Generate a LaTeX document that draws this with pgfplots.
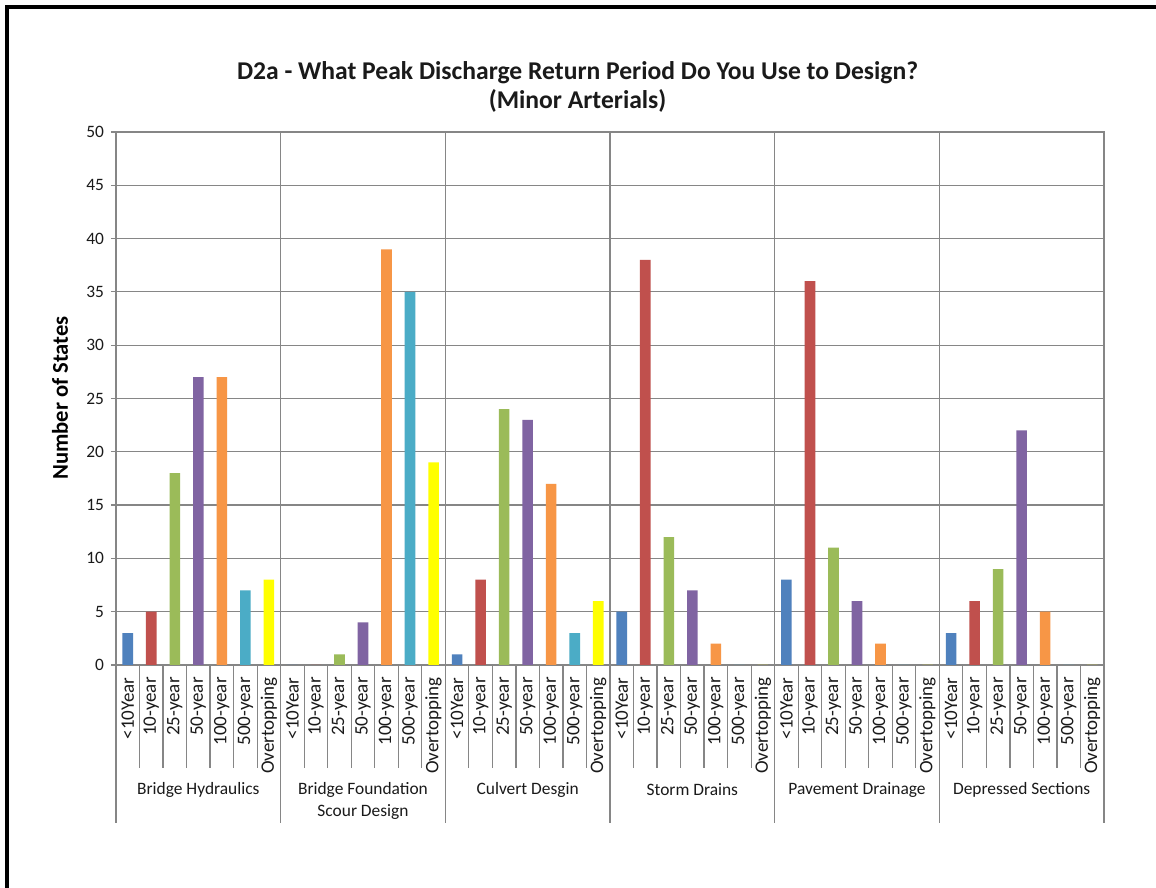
\documentclass[border=0pt]{standalone}
\usepackage{fontspec}
\setmainfont{Carlito}
\usepackage{pgfplots}
\pgfplotsset{compat=1.18}
\definecolor{cBlue}{HTML}{4F81BD}
\definecolor{cRed}{HTML}{C0504D}
\definecolor{cGreen}{HTML}{9BBB59}
\definecolor{cPurple}{HTML}{8064A2}
\definecolor{cOrange}{HTML}{F79646}
\definecolor{cCyan}{HTML}{4BACC6}
\definecolor{cYellow}{HTML}{FFFF00}
\definecolor{gridc}{HTML}{868686}
\definecolor{txt}{HTML}{1A1A1A}
\begin{document}
\begin{tikzpicture}
\useasboundingbox (0,0) rectangle (578pt,444pt);
\fill[white] (0,0) rectangle (578pt,444pt);
\draw[line width=2pt, line join=miter] (3.5pt,0) -- (3.5pt,440.25pt) -- (578pt,440.25pt);
\node[font=\bfseries\fontsize{12.8}{14.5}\selectfont, align=center, text=txt] at (288.8pt,400.75pt)
  {D2a - What Peak Discharge Return Period Do You Use to Design?\\(Minor Arterials)};
\node[font=\bfseries\fontsize{11.3}{13}\selectfont, rotate=90, text=black] at (30pt,245pt) {Number of States};
\begin{axis}[
  at={(58pt,111.5pt)}, anchor=south west,
  scale only axis, width=494pt, height=266.5pt,
  xmin=-0.5, xmax=41.5, ymin=0, ymax=50,
  ytick={0,5,...,50},
  ymajorgrids,
  grid style={gridc, line width=0.6pt},
  axis line style={gridc, line width=0.6pt},
  tick style={gridc, line width=0.6pt},
  tick align=outside,
  ytick pos=left, xtick pos=bottom,
  major tick length=2.5pt,
  xtick={0,...,41},
  xtick style={draw=none},
  xticklabels={<10Year,10-year,25-year,50-year,100-year,500-year,Overtopping,
               <10Year,10-year,25-year,50-year,100-year,500-year,Overtopping,
               <10Year,10-year,25-year,50-year,100-year,500-year,Overtopping,
               <10Year,10-year,25-year,50-year,100-year,500-year,Overtopping,
               <10Year,10-year,25-year,50-year,100-year,500-year,Overtopping,
               <10Year,10-year,25-year,50-year,100-year,500-year,Overtopping},
  xticklabel style={rotate=90, anchor=east, inner sep=0pt, font=\fontsize{9.5}{10}\selectfont, text=txt},
  xticklabel shift=3.5pt,
  yticklabel style={font=\fontsize{8.7}{10}\selectfont, text=txt},
  /pgf/number format/assume math mode=true,
  extra x ticks={6.5,13.5,20.5,27.5,34.5},
  extra x tick labels={},
  extra x tick style={grid=major, tick style={draw=none}},
  ybar, bar width=5.3pt, bar shift=0pt,
  clip=false,
  every axis plot/.append style={draw=none},
]
\addplot[fill=cBlue]   coordinates {(0,3) (7,0) (14,1) (21,5) (28,8) (35,3)};
\addplot[fill=cRed]    coordinates {(1,5) (8,0) (15,8) (22,38) (29,36) (36,6)};
\addplot[fill=cGreen]  coordinates {(2,18) (9,1) (16,24) (23,12) (30,11) (37,9)};
\addplot[fill=cPurple] coordinates {(3,27) (10,4) (17,23) (24,7) (31,6) (38,22)};
\addplot[fill=cOrange] coordinates {(4,27) (11,39) (18,17) (25,2) (32,2) (39,5)};
\addplot[fill=cCyan]   coordinates {(5,7) (12,35) (19,3) (26,0) (33,0) (40,0)};
\addplot[fill=cYellow] coordinates {(6,8) (13,19) (20,6) (27,0) (34,0) (41,0)};
\pgfplotsinvokeforeach{-0.5,0.5,...,41.5}{
  \draw[gridc, line width=0.6pt] (axis cs:#1,0) -- ++(0pt,-51.5pt);
}
\pgfplotsinvokeforeach{-0.5,6.5,...,41.5}{
  \draw[gridc, line width=0.6pt] (axis cs:#1,0) -- ++(0pt,-79pt);
}
\begin{scope}[every node/.style={font=\fontsize{8.7}{11}\selectfont, text=txt, align=center}]
\node at (axis cs:3,0)  [yshift=-62.5pt] {Bridge Hydraulics};
\node at (axis cs:10,0) [yshift=-68pt] {Bridge Foundation\\Scour Design};
\node at (axis cs:17,0) [yshift=-62.5pt] {Culvert Desgin};
\node at (axis cs:24,0) [yshift=-62.5pt] {Storm Drains};
\node at (axis cs:31,0) [yshift=-62.5pt] {Pavement Drainage};
\node at (axis cs:38,0) [yshift=-62.5pt] {Depressed Sections};
\end{scope}
\end{axis}
\end{tikzpicture}
\end{document}
